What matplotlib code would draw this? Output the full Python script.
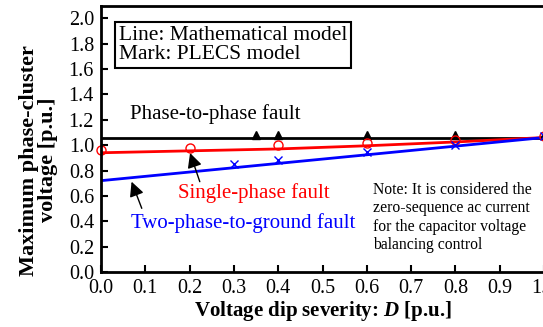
import numpy as np
import matplotlib
matplotlib.use("Agg")
from matplotlib import pyplot as plt

plt.rcParams['font.family'] = ['Liberation Serif', 'DejaVu Serif']
plt.rcParams['mathtext.fontset'] = 'custom'
plt.rcParams['mathtext.rm'] = 'Liberation Serif'
plt.rcParams['mathtext.bf'] = 'Liberation Serif:bold'
plt.rcParams['mathtext.bfit'] = 'Liberation Serif:bold:italic'

# mathematical model (lines)
D_line = [0.0, 0.2, 0.4, 0.6, 0.8, 1.0]
p2p_line = [1.06, 1.06, 1.06, 1.06, 1.06, 1.06]
single_line = [0.94, 0.955, 0.97, 0.995, 1.025, 1.06]
two_gnd_line = [0.72, 0.788, 0.856, 0.924, 0.992, 1.06]

# PLECS model (marks)
D_p2p = [0.35, 0.4, 0.6, 0.8, 1.0]
p2p_mark = [1.08, 1.08, 1.08, 1.08, 1.08]
D_single = [0.0, 0.2, 0.4, 0.6, 0.8, 1.0]
single_mark = [0.96, 0.98, 1.0, 1.02, 1.04, 1.07]
D_two = [0.3, 0.4, 0.6, 0.8, 1.0]
two_mark = [0.853, 0.88, 0.945, 1.005, 1.07]

xticks = [0.0, 0.1, 0.2, 0.3, 0.4, 0.5, 0.6, 0.7, 0.8, 0.9, 1.0]
yticks = [0.0, 0.2, 0.4, 0.6, 0.8, 1.0, 1.2, 1.4, 1.6, 1.8, 2.0]

fig = plt.figure(figsize=(5.43, 3.27), dpi=100)
W, H = 543, 327
x0, x1, y0, y1 = 101, 544, 272, 5.6
ax = fig.add_axes([x0 / W, (H - y0) / H, (x1 - x0) / W, (y0 - y1) / H])

ax.plot(D_line, p2p_line, color='black', lw=2)
ax.plot(D_line, single_line, color='red', lw=2)
ax.plot(D_line, two_gnd_line, color='blue', lw=2)

ax.plot(D_p2p, p2p_mark, '^', color='black', ms=6, ls='none', clip_on=False)
ax.plot(D_single, single_mark, 'o', mfc='none', mec='red', mew=1, ms=6.5, ls='none', clip_on=False)
ax.plot(D_two, two_mark, 'x', color='blue', mew=1, ms=6, ls='none', clip_on=False)

ax.set_xlim(0, 1.0)
ax.set_ylim(0, 2.1)
ax.set_xticks(xticks)
ax.set_yticks(yticks)
ax.set_xticklabels(['%.1f' % v for v in xticks])
ax.set_yticklabels(['%.1f' % v for v in yticks])
ax.tick_params(direction='in', length=5, width=1.5, labelsize=14.5, pad=5)
for s in ax.spines.values():
    s.set_linewidth(2)

ax.set_xlabel(r'Voltage dip severity: $\boldsymbol{D}$ [p.u.]', fontsize=15, fontweight='bold', labelpad=1)
ax.set_ylabel('Maximum phase-cluster\nvoltage [p.u.]', fontsize=16, fontweight='bold',
              linespacing=0.92)
ax.yaxis.set_label_coords(-0.098, 0.42)

ax.text(0.04, 1.79, 'Line: Mathematical model\nMark: PLECS model', fontsize=15.5,
        ha='left', va='center', linespacing=1.02,
        bbox=dict(boxstyle='square,pad=0.18', fc='white', ec='black', lw=1.5))

ax.text(0.257, 1.245, 'Phase-to-phase fault', fontsize=15, ha='center', va='center')
ax.text(0.344, 0.623, 'Single-phase fault', fontsize=15, color='red', ha='center', va='center')
ax.text(0.32, 0.386, 'Two-phase-to-ground fault', fontsize=15, color='blue', ha='center', va='center')
ax.text(0.614, 0.71, 'Note: It is considered the\nzero-sequence ac current\nfor the capacitor voltage\nbalancing control',
        fontsize=11.3, ha='left', va='top', linespacing=1.2)

arrow = dict(arrowstyle='-|>', color='black', lw=1, mutation_scale=22, shrinkA=0, shrinkB=0)
ax.annotate('', xy=(0.201, 0.938), xytext=(0.223, 0.712), arrowprops=arrow)
ax.annotate('', xy=(0.069, 0.712), xytext=(0.092, 0.502), arrowprops=arrow)

fig.savefig('out.png', dpi=100)
